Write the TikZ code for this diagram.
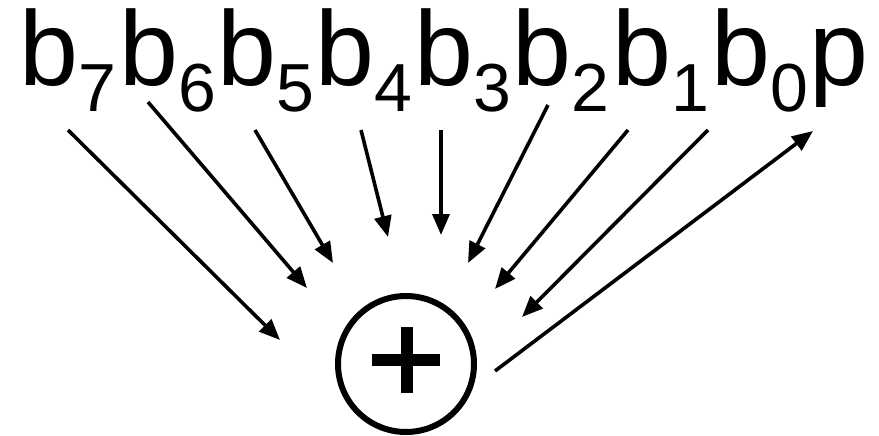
\documentclass[tikz,border=0pt]{standalone}
\usepackage{fontspec}
\setmainfont{Liberation Sans}
\usetikzlibrary{positioning, arrows.meta, calc}

\newcommand{\bitlabel}[1]{b\raisebox{-27pt}{\fontsize{68}{70}\selectfont #1}}

\begin{document}
\begin{tikzpicture}[
        x=1pt, y=-1pt,
        >={Triangle[length=21pt, width=17pt]},
        bit/.style={inner sep=0pt, anchor=base west, font=\fontsize{106}{110}\selectfont},
        bitarrow/.style={->, line width=3.6pt},
        xorgate/.style={circle, draw, line width=6pt, minimum size=136pt, inner sep=0pt}
    ]
        \useasboundingbox (0,0) rectangle (879,436);

        % register bits, left to right
        \foreach \n/\x in {7/19, 6/119, 5/217, 4/315, 3/414, 2/512, 1/612, 0/711}
            \node[bit] (b\n) at (\x,85) {\bitlabel{\n}};
        \node[bit] (p) at (809,85) {p};

        % parity gate
        \node[xorgate] (xor) at (406,364) {};
        \draw[line width=12pt] ($(xor)+(-34,-4)$) -- ($(xor)+(34,-4)$);
        \draw[line width=12pt] ($(xor)+(1,-37)$) -- ($(xor)+(1,29)$);

        % bits into the gate
        \foreach \n/\sx/\sy/\ex/\ey in {7/68/130/280/340, 6/148/102/307/288,
                5/255/130/333/263, 4/361/130/388/237, 3/441/130/441/235,
                2/548/105/468/263, 1/628/130/495/289, 0/708/130/522/317} {
            \coordinate (s\n) at (\sx,\sy);
            \coordinate (e\n) at (\ex,\ey);
            \draw[bitarrow] (s\n) -- (e\n);
        }

        % gate out to parity bit
        \coordinate (out) at (495,371);
        \coordinate (pin) at (813,131);
        \draw[bitarrow] (out) -- (pin);
    \end{tikzpicture}
\end{document}
